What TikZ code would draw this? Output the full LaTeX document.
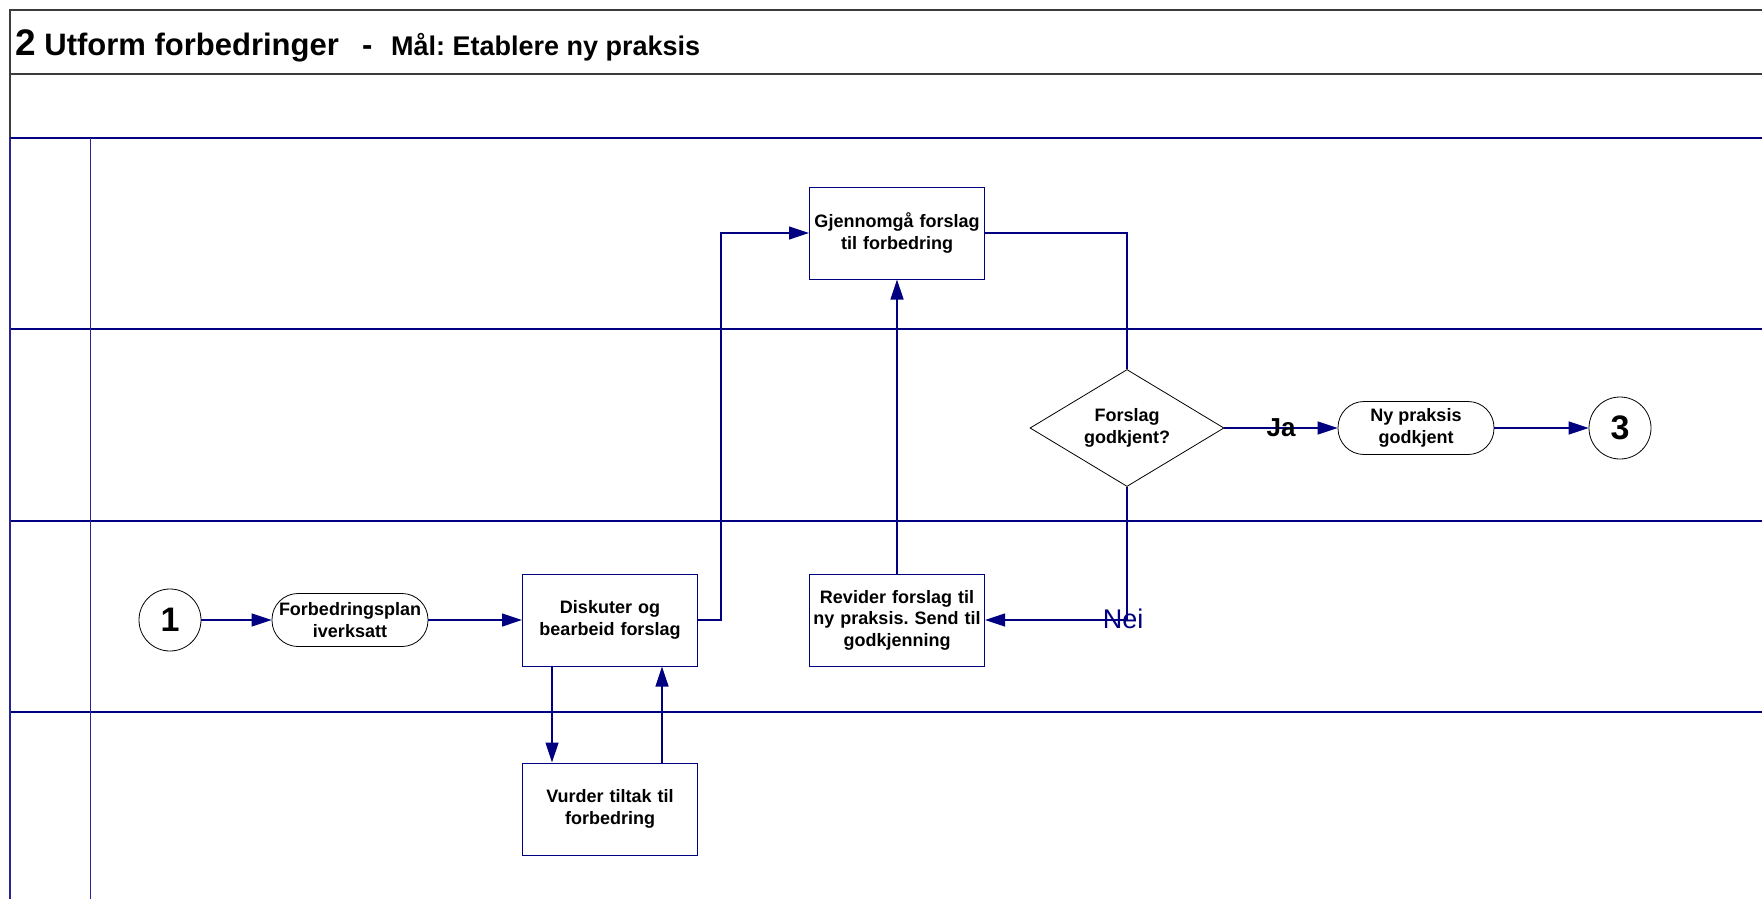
\documentclass[tikz,border=0pt]{standalone}
\usepackage{fontspec}
\setmainfont{Liberation Sans}
\usetikzlibrary{arrows.meta,shapes.geometric,calc}
\definecolor{navy}{RGB}{0,0,128}
\definecolor{frame}{RGB}{60,60,60}
\frenchspacing
\begin{document}
\begin{tikzpicture}[x=1pt,y=-1pt,
  lbl/.style={font=\fontsize{18}{21.5}\selectfont\bfseries,align=center,text=black},
  procbox/.style={lbl,draw=navy,line width=1pt,minimum width=175pt,minimum height=92pt,inner sep=2pt,text width=170pt},
  eventbox/.style={lbl,draw=black,line width=0.8pt,minimum width=156pt,minimum height=53pt,rounded corners=26pt,inner sep=0pt},
  decision/.style={draw=black,line width=0.8pt,diamond,minimum width=194pt,minimum height=117pt,inner sep=0pt},
  connector/.style={draw=black,line width=0.8pt,circle,minimum size=62pt,inner sep=0pt,font=\fontsize{34}{34}\selectfont\bfseries},
  flow/.style={draw=navy,line width=1.2pt},
  arrow/.style={flow,-{Triangle[length=20pt,width=13pt]}},
  lane/.style={draw=navy,line width=1.4pt}]
\useasboundingbox (0,0) rectangle (1762,899);
\fill[white] (0,0) rectangle (1762,899);

% swimlane frame
\draw[frame,line width=1.4pt] (10,899) -- (10,10) -- (1762,10);
\draw[frame,line width=1.4pt] (10,74) -- (1762,74);
\draw[lane] (10,138) -- (1762,138);
\draw[lane] (10,329) -- (1762,329);
\draw[lane] (10,521) -- (1762,521);
\draw[lane] (10,712) -- (1762,712);
\draw[navy!85,line width=1pt] (90,138) -- (90,899);
\draw[navy!85,line width=1.4pt] (10,138) -- (10,899);

% title
\node[anchor=base west,inner sep=0pt] (title) at (15,56)
  {\bfseries\fontsize{37}{37}\selectfont 2\fontsize{31}{31}\selectfont{} Utform forbedringer\hspace{0.75em}-\hspace{0.6em}\fontsize{27}{27}\selectfont Mål: Etablere ny praksis};

% process nodes
\node[connector] (c1) at (170,620) {1};
\node[eventbox] (fp) at (350,620) {Forbedringsplan\\iverksatt};
\node[procbox] (disk) at (610,620) {Diskuter og\\bearbeid forslag};
\node[procbox] (vurd) at (610,809) {Vurder tiltak til\\forbedring};
\node[procbox] (gjen) at (897,233) {Gjennomgå forslag\\til forbedring};
\node[procbox] (rev) at (897,620) {Revider forslag til\\ny praksis. Send til\\godkjenning};
\node[decision] (dia) at (1127,428) {};
\node[lbl] (dialbl) at (dia.center) {Forslag\\godkjent?};
\node[eventbox] (ny) at (1416,428) {Ny praksis\\godkjent};
\node[connector] (c3) at (1620,428) {3};

% connectors
\draw[arrow] (c1.east) -- (fp.west);
\draw[arrow] (fp.east) -- (disk.west);
\draw[arrow] (disk.east) -- ($(disk.east)+(23,0)$) |- (gjen.west);
\draw[arrow] ([xshift=-58pt]disk.south) -- ([xshift=-58pt]vurd.north);
\draw[arrow] ([xshift=52pt]vurd.north) -- ([xshift=52pt]disk.south);
\draw[flow] (gjen.east) -| (dia.north);
\draw[arrow] (dia.east) -- (ny.west);
\draw[arrow] (ny.east) -- (c3.west);
\draw[arrow] (dia.south) |- (rev.east);
\draw[arrow] (rev.north) -- (gjen.south);

% branch labels
\node[font=\fontsize{26}{26}\selectfont\bfseries,inner sep=0pt] (ja) at (1281,428) {Ja};
\node[font=\fontsize{27}{27}\selectfont,text=navy,inner sep=0pt] (nei) at (1123,619) {Nei};
\end{tikzpicture}
\end{document}
